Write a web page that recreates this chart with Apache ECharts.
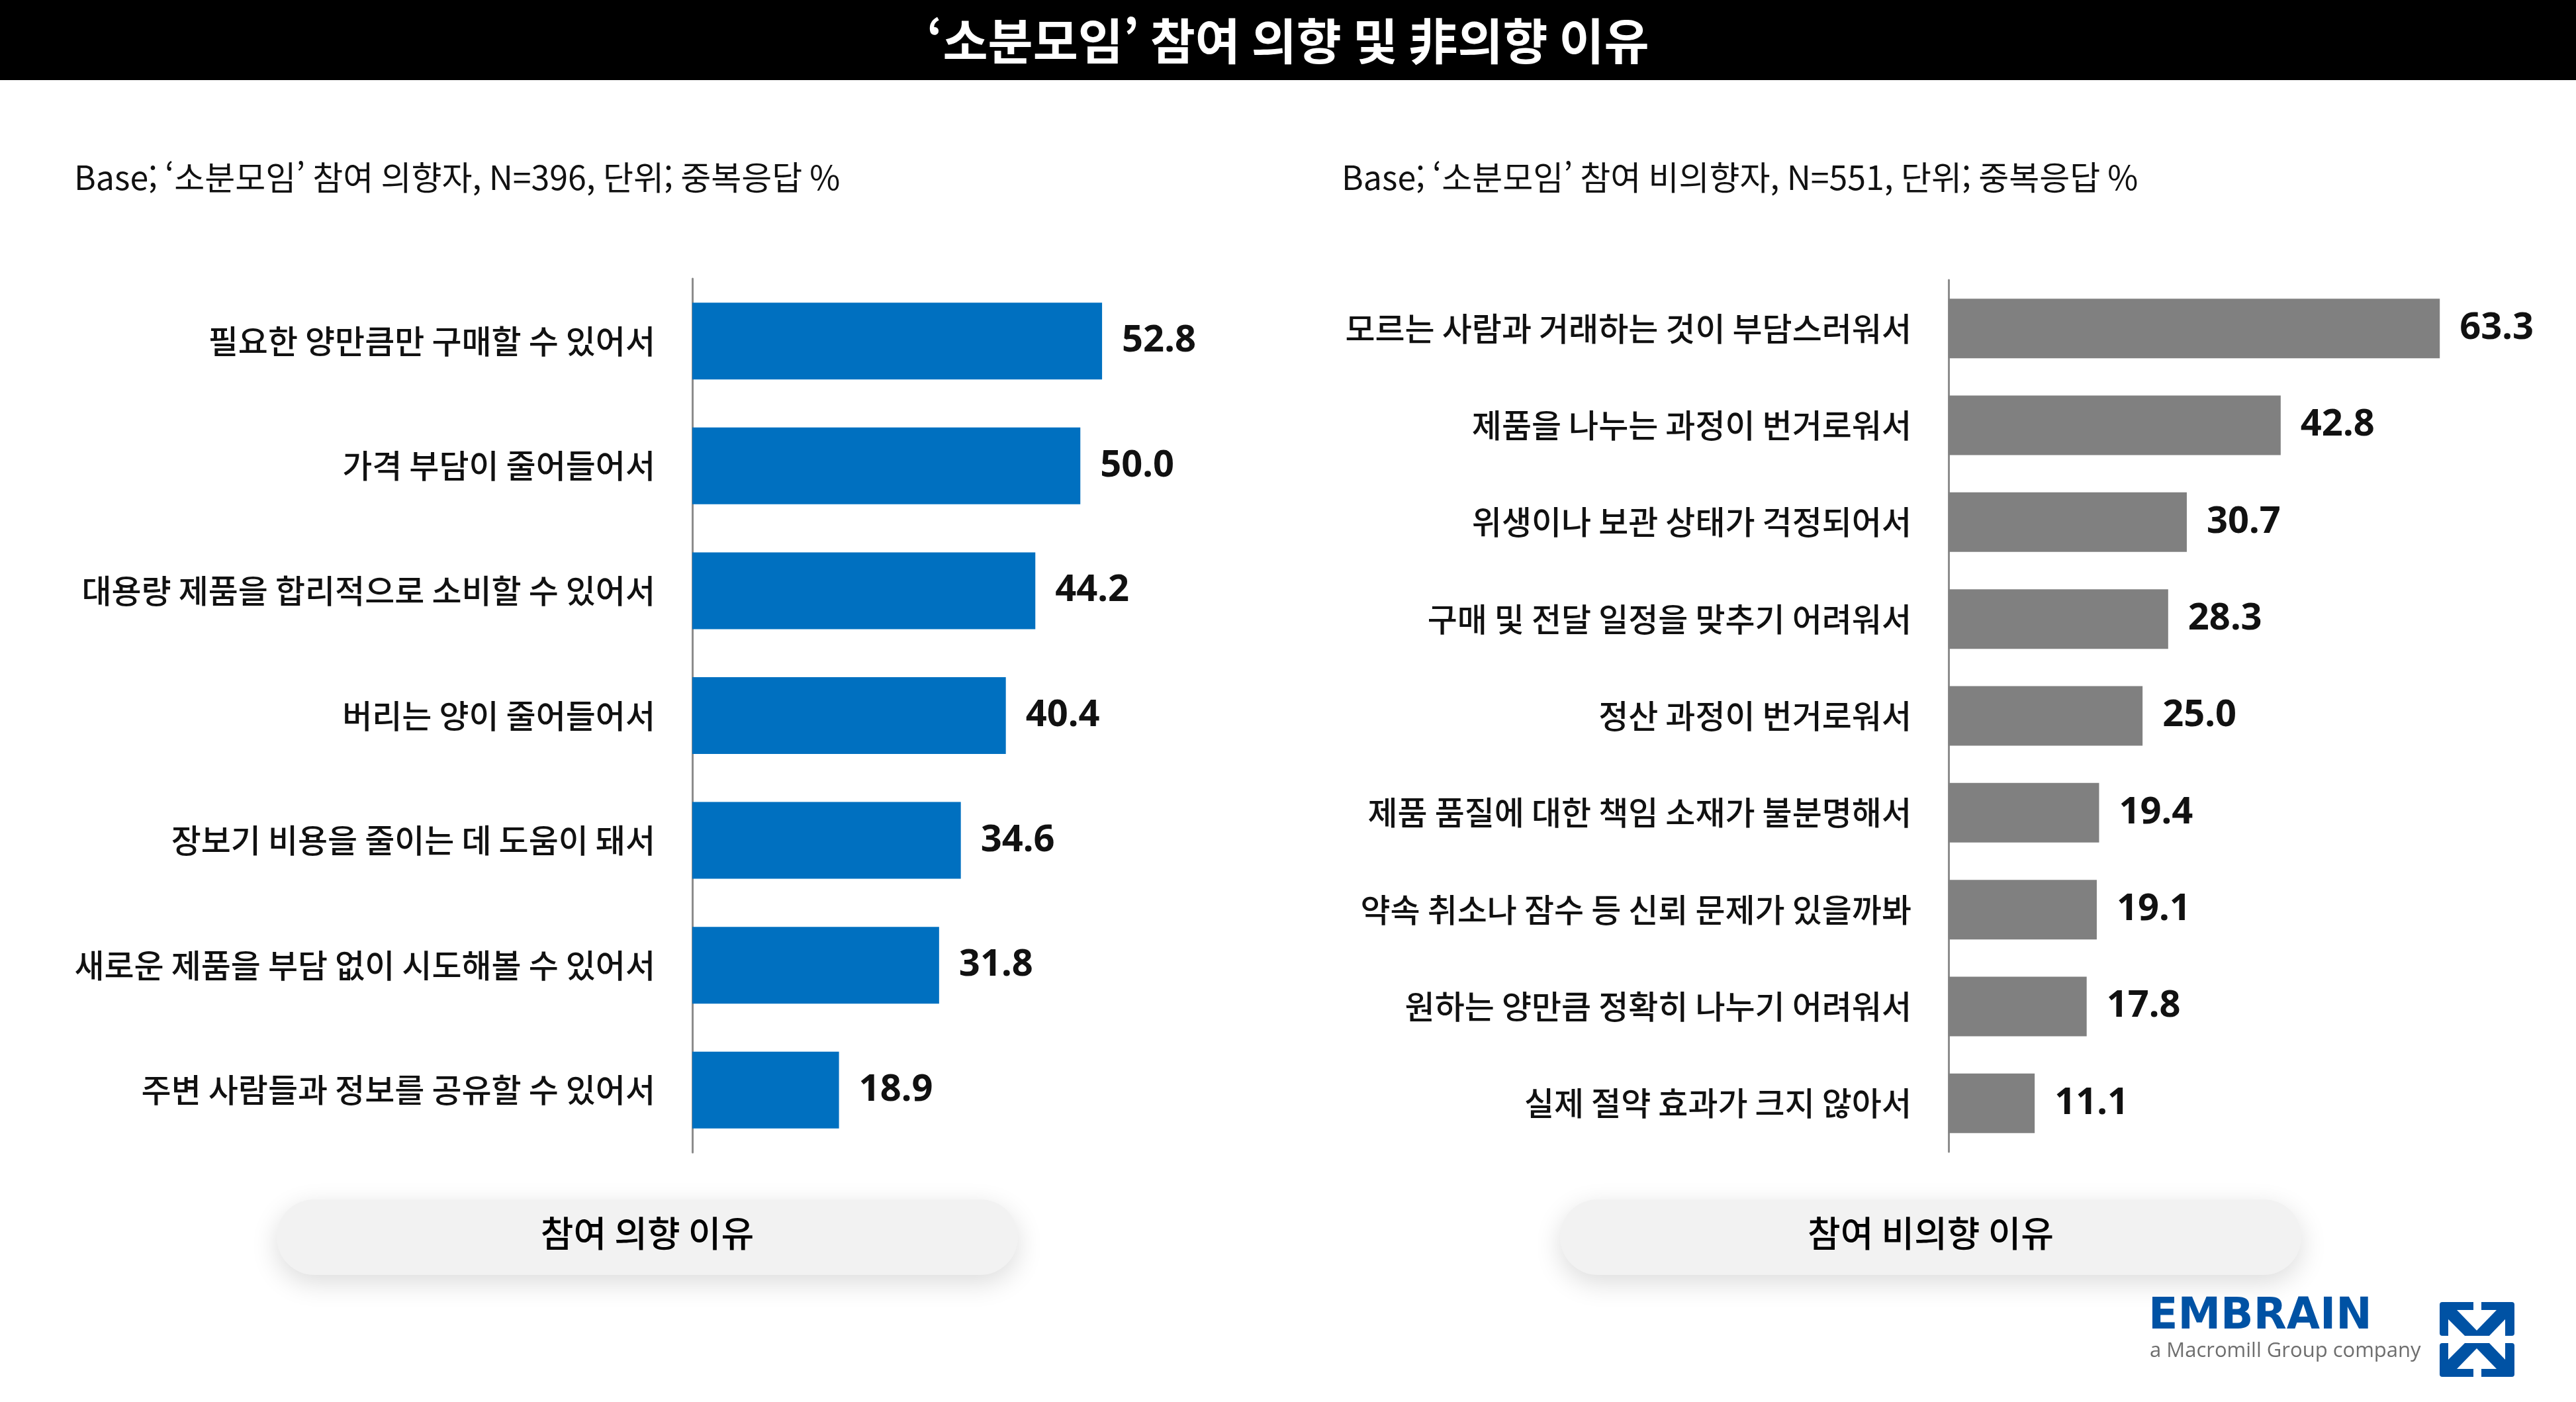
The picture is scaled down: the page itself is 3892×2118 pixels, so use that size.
<!DOCTYPE html>
<html lang="ko">
<head>
    <meta charset="UTF-8">
    <title>소분모임 참여 의향 및 비의향 이유</title>
    <script src="https://cdn.jsdelivr.net/npm/echarts@6/dist/echarts.min.js"></script>
    <style>
        html, body { margin: 0; padding: 0; background: #fff; }
        #main { width: 3892px; height: 2118px; }
    </style>
</head>
<body>
<div id="main"></div>
<script>
    // 참여 의향 이유 (N=396)
    var yesReasons = ["필요한 양만큼만 구매할 수 있어서", "가격 부담이 줄어들어서", "대용량 제품을 합리적으로 소비할 수 있어서",
        "버리는 양이 줄어들어서", "장보기 비용을 줄이는 데 도움이 돼서", "새로운 제품을 부담 없이 시도해볼 수 있어서",
        "주변 사람들과 정보를 공유할 수 있어서"];
    var yesValues = [52.8, 50.0, 44.2, 40.4, 34.6, 31.8, 18.9];

    // 참여 비의향 이유 (N=551)
    var noReasons = ["모르는 사람과 거래하는 것이 부담스러워서", "제품을 나누는 과정이 번거로워서", "위생이나 보관 상태가 걱정되어서",
        "구매 및 전달 일정을 맞추기 어려워서", "정산 과정이 번거로워서", "제품 품질에 대한 책임 소재가 불분명해서",
        "약속 취소나 잠수 등 신뢰 문제가 있을까봐", "원하는 양만큼 정확히 나누기 어려워서", "실제 절약 효과가 크지 않아서"];
    var noValues = [63.3, 42.8, 30.7, 28.3, 25.0, 19.4, 19.1, 17.8, 11.1];

    var titleText = "‘소분모임’ 참여 의향 및 非의향 이유";
    var subLeft = "Base; ‘소분모임’ 참여 의향자, N=396, 단위; 중복응답 %";
    var subRight = "Base; ‘소분모임’ 참여 비의향자, N=551, 단위; 중복응답 %";
    var pillLeft = "참여 의향 이유";
    var pillRight = "참여 비의향 이유";

    var KR = "'Noto Sans CJK KR', 'Noto Sans', sans-serif";
    var NUM = "'Noto Sans', 'Noto Sans CJK KR', sans-serif";

    var chart = echarts.init(document.getElementById("main"));

    function yAxisFor(idx, cats) {
        return {
            type: "category", gridIndex: idx, data: cats, inverse: true,
            axisLine: {show: true, lineStyle: {color: "#8c8c8c", width: 3}},
            axisTick: {show: false},
            axisLabel: {fontFamily: KR, fontSize: 49, fontWeight: 500, color: "#111", margin: 56, padding: [0, 0, 12, 0]}
        };
    }

    function xAxisFor(idx) {
        return {type: "value", gridIndex: idx, min: 0, max: 80, show: false, splitLine: {show: false}};
    }

    function valueLabel() {
        return {
            show: true, position: "right", distance: 30,
            fontFamily: NUM, fontSize: 56, fontWeight: 700, color: "#111",
            formatter: function (p) { return p.value.toFixed(1); }
        };
    }

    function pill(cx, text) {
        return {
            type: "group", left: cx - 560, top: 1812,
            children: [{
                type: "rect", shape: {x: 0, y: 0, width: 1120, height: 114, r: 57},
                style: {fill: "#f2f2f2", shadowBlur: 40, shadowColor: "rgba(0,0,0,0.14)", shadowOffsetY: 12}
            }, {
                type: "text", x: 560, y: 51,
                style: {text: text, fill: "#000", font: "500 54px " + KR, align: "center", verticalAlign: "middle"}
            }]
        };
    }

    // 엠브레인 로고 (아이콘은 도형으로 대충 그림)
    function logoIcon() {
        var top = [
            {type: "rect", shape: {x: 3686, y: 1967, width: 113, height: 51, r: 4}, style: {fill: "#0052a4"}},
            {type: "rect", shape: {x: 3737, y: 1965, width: 12, height: 16}, style: {fill: "#fff"}},
            {type: "polygon", shape: {points: [[3712, 1979], [3772, 1979], [3742, 2010]]}, style: {fill: "#fff"}},
            {type: "polygon", shape: {points: [[3699, 1993], [3699, 2019], [3725, 2019]]}, style: {fill: "#fff"}},
            {type: "polygon", shape: {points: [[3785, 1993], [3785, 2019], [3760, 2019]]}, style: {fill: "#fff"}}
        ];
        var out = [];
        top.forEach(function (el) {
            out.push(el);
            var m = JSON.parse(JSON.stringify(el));
            if (m.type === "rect") {
                m.shape.y = 4047 - m.shape.y - m.shape.height;
            } else {
                m.shape.points = m.shape.points.map(function (p) { return [p[0], 4047 - p[1]]; });
            }
            out.push(m);
        });
        // 흰 도형이 파란 사각형 위에 오도록 순서 정리
        return out.filter(function (e) { return e.style.fill !== "#fff"; })
            .concat(out.filter(function (e) { return e.style.fill === "#fff"; }));
    }

    var option = {
        backgroundColor: "#fff",
        animation: false,
        grid: [
            {left: 1046, top: 421, width: 938, height: 1320},
            {left: 2944, top: 423, width: 938, height: 1317}
        ],
        xAxis: [xAxisFor(0), xAxisFor(1)],
        yAxis: [yAxisFor(0, yesReasons), yAxisFor(1, noReasons)],
        series: [{
            type: "bar", xAxisIndex: 0, yAxisIndex: 0, data: yesValues, barWidth: 116,
            itemStyle: {color: "#0070c0"}, label: valueLabel()
        }, {
            type: "bar", xAxisIndex: 1, yAxisIndex: 1, data: noValues, barWidth: 90,
            itemStyle: {color: "#808080"}, label: valueLabel()
        }],
        graphic: [
            {type: "rect", left: 0, top: 0, shape: {width: 3892, height: 121}, style: {fill: "#000"}},
            {type: "text", x: 1946, y: 62, style: {text: titleText, fill: "#fff", font: "700 74px " + KR, align: "center", verticalAlign: "middle"}},
            {type: "text", x: 112, y: 268, style: {text: subLeft, fill: "#111", font: "400 50px " + KR, verticalAlign: "middle"}},
            {type: "text", x: 2027, y: 268, style: {text: subRight, fill: "#111", font: "400 50px " + KR, verticalAlign: "middle"}},
            pill(978, pillLeft),
            pill(2917, pillRight),
            {type: "text", x: 3246, y: 1990, style: {text: "EMBRAIN", fill: "#0052a4", font: "700 65px 'DejaVu Sans', sans-serif", verticalAlign: "middle"}},
            {type: "text", x: 3248, y: 2041, style: {text: "a Macromill Group company", fill: "#6e6e6e", font: "400 31px 'Open Sans', sans-serif", verticalAlign: "middle"}},
            {type: "group", children: logoIcon()}
        ]
    };
    chart.setOption(option);
</script>
</body>
</html>
